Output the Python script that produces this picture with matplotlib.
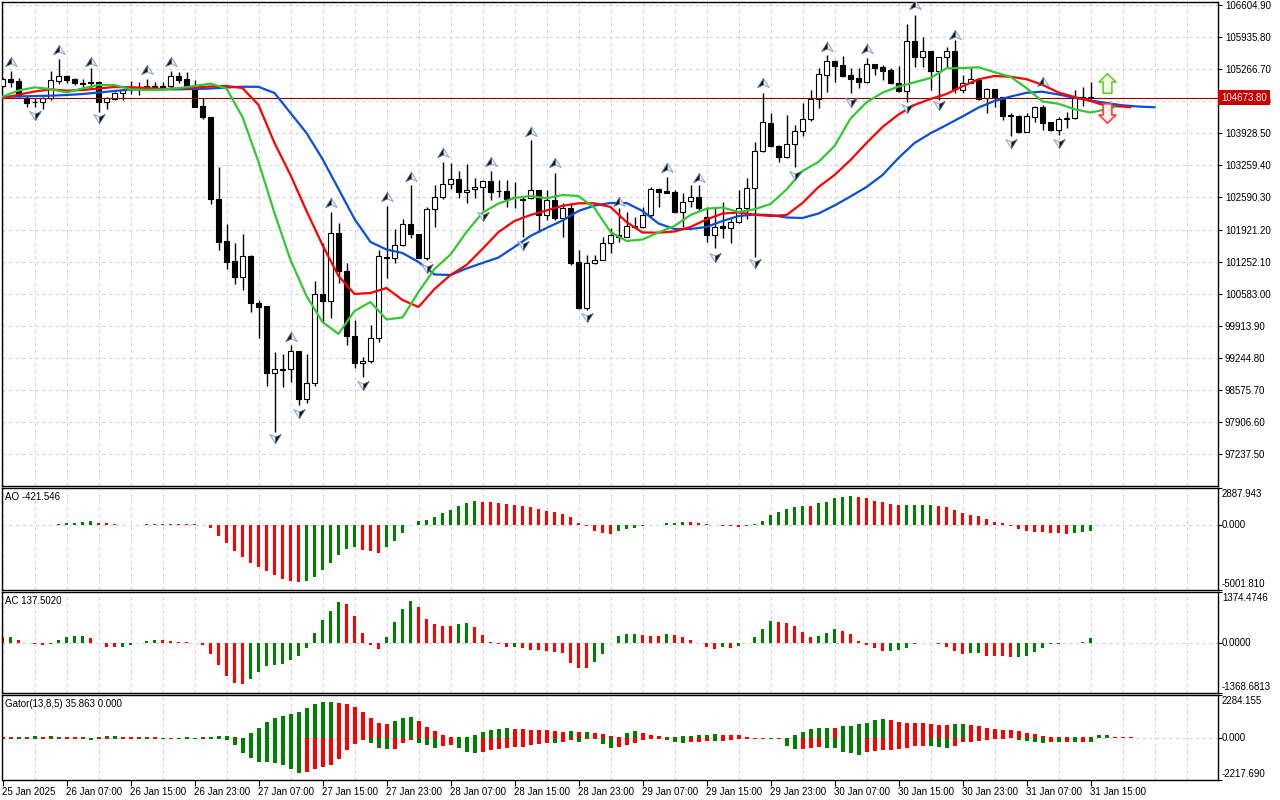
import numpy as np
import matplotlib
matplotlib.use("Agg")
import matplotlib.pyplot as plt
from matplotlib.path import Path
from matplotlib.transforms import blended_transform_factory, offset_copy

plt.rcParams['font.family'] = ['Liberation Sans', 'DejaVu Sans']
plt.rcParams['font.size'] = 7

# ---- H1 candles, 25 Jan 23:00 .. 31 Jan 15:00 ----
opens = [104921, 105061, 105019, 104675, 104575, 104575, 104658, 105026, 105134, 105061,
         104978, 105005, 105005, 104575, 104644, 104775, 104873, 104884, 104915, 104915,
         104915, 104915, 105130, 105061, 104900, 104498, 104262, 102552, 101682, 101271,
         100937, 101369, 100382, 100326, 98922, 99005, 99005, 99387, 98380, 98713,
         100570, 100436, 101855, 101062, 99706, 99130, 99178, 99665, 101354, 101321,
         101598, 102030, 101821, 101321, 102349, 102593, 102871, 102969, 102704, 102760,
         102802, 102933, 102725, 102725, 102600, 102547, 102572, 102746, 102224, 102537,
         102155, 102364, 101250, 100285, 101217, 101285, 101646, 101807, 101771, 102001,
         101980, 102224, 102760, 102725, 102698, 102293, 102516, 102593, 102189, 101807,
         101995, 101947, 102084, 102364, 102794, 103559, 104137, 103670, 103440, 103699,
         103976, 104220, 104638, 105144, 105436, 105353, 105144, 105076, 105005, 105368,
         105311, 105249, 104971, 104817, 105860, 105514, 105651, 105234, 105514, 105651,
         104832, 104984, 105040, 104658, 104846, 104692, 104316, 104289, 103962, 104275,
         104471, 104158, 103997, 104220, 104241, 104692, 104686]
highs = [105082, 105234, 105088, 104706, 104658, 104692, 105234, 105472, 105144, 105076,
         105061, 105284, 105019, 104692, 104796, 104852, 105019, 105005, 105055, 105005,
         105005, 105234, 105213, 105213, 105040, 104658, 104268, 103232, 102030, 101634,
         101821, 101380, 100451, 100330, 99372, 99318, 99512, 99390, 99318, 100854,
         101634, 102293, 102063, 101217, 100034, 99268, 99929, 101494, 102412, 101926,
         102134, 102850, 101830, 102385, 102850, 103336, 103303, 103148, 103282, 102990,
         102945, 103148, 102954, 102954, 102919, 102620, 103789, 102750, 102746, 103094,
         102468, 102468, 101494, 101390, 101390, 101771, 101947, 102364, 102293, 102189,
         102397, 102814, 102781, 103023, 102746, 102677, 102850, 102850, 102397, 102364,
         102502, 102155, 102746, 102990, 103753, 104763, 104346, 103675, 104310, 104101,
         104554, 104832, 105284, 105562, 105457, 105541, 105284, 105284, 105493, 105374,
         105353, 105284, 105332, 106208, 106396, 105943, 105655, 105525, 105735, 105875,
         105144, 105284, 105045, 104867, 104852, 104695, 104346, 104310, 104346, 104498,
         104519, 104162, 104275, 104379, 104832, 104888, 105005]
lows = [104894, 104888, 104692, 104467, 104477, 104435, 104623, 104957, 104971, 104936,
        104888, 104867, 104366, 104429, 104623, 104623, 104748, 104727, 104832, 104832,
        104852, 104867, 104971, 104888, 104477, 104220, 102447, 101494, 101091, 100778,
        100660, 100207, 99665, 98663, 97704, 98642, 98747, 98261, 98296, 98657,
        99965, 100069, 100799, 99512, 99026, 98851, 99143, 99569, 100916, 101217,
        101577, 101738, 101327, 101285, 101980, 102552, 102760, 102572, 102481, 102572,
        102328, 102537, 102606, 102397, 102364, 101771, 102552, 101876, 102120, 102120,
        101771, 101181, 100270, 100242, 101202, 101280, 101425, 101667, 101765, 101947,
        101947, 102189, 102397, 102677, 102260, 101980, 102397, 102328, 101667, 101530,
        101738, 101634, 102051, 102134, 101354, 103544, 103649, 103336, 103407, 103232,
        103872, 104191, 104450, 104796, 105005, 105109, 104763, 104867, 104971, 105144,
        105040, 104957, 104796, 104588, 105318, 105318, 104832, 104623, 105318, 104775,
        104775, 104971, 104623, 104346, 104483, 104206, 103872, 103928, 103955, 104170,
        103997, 103983, 103893, 104033, 104235, 104498, 104644]
closes = [105061, 105005, 104727, 104550, 104571, 104658, 105030, 105130, 105040, 104971,
          104967, 104971, 104588, 104671, 104763, 104842, 104884, 104894, 104867, 104867,
          104867, 105130, 105040, 104915, 104483, 104275, 102564, 101667, 101250, 100937,
          101369, 100382, 100311, 98922, 99005, 98995, 99387, 98380, 98713, 100570,
          100436, 101855, 101062, 99706, 99130, 99178, 99665, 101369, 101321, 101598,
          102030, 101821, 101333, 102349, 102593, 102864, 102969, 102698, 102746, 102802,
          102933, 102710, 102718, 102552, 102589, 102558, 102746, 102224, 102537, 102155,
          102364, 101217, 100285, 101217, 101285, 101646, 101807, 101759, 102001, 101968,
          102224, 102760, 102710, 102689, 102293, 102502, 102593, 102364, 101807, 101980,
          101947, 102084, 102364, 102794, 103559, 104158, 103670, 103440, 103699, 103976,
          104220, 104638, 105155, 105436, 105338, 105124, 105061, 105005, 105368, 105297,
          105234, 104971, 104817, 105860, 105514, 105651, 105234, 105514, 105651, 104846,
          104984, 105055, 104638, 104846, 104658, 104295, 104295, 103962, 104289, 104471,
          104149, 103997, 104220, 104254, 104658, 104658, 104673.8]
bid = 104673.80

# Alligator lines (read every second bar, shifted lines run past the last candle)
jaw_x = list(range(0, 145, 2))
jaw = [104692, 104696, 104706, 104713, 104727, 104748, 104779, 104811, 104842, 104846,
       104846, 104846, 104852, 104863, 104884, 104900, 104898, 104769, 104352, 103935,
       103392, 102767, 102141, 101661, 101504, 101431, 101244, 100983, 100972, 101108,
       101223, 101337, 101557, 101786, 101953, 102109, 102308, 102422, 102474, 102474,
       102308, 102047, 101932, 101932, 101974, 102099, 102203, 102234, 102224, 102172,
       102161, 102255, 102422, 102610, 102808, 103058, 103413, 103726, 103928, 104101,
       104279, 104466, 104602, 104694, 104773, 104796, 104738, 104669, 104613, 104560,
       104512, 104487, 104471]
teeth_x = list(range(0, 141, 2)) + [141]
teeth = [104658, 104734, 104800, 104846, 104817, 104832, 104863, 104894, 104890, 104873,
         104852, 104863, 104882, 104905, 104915, 104873, 104519, 103726, 103058, 102308,
         101598, 100952, 100576, 100597, 100701, 100451, 100305, 100680, 100972, 101181,
         101515, 101869, 102099, 102224, 102318, 102416, 102468, 102468, 102391, 102078,
         101859, 101855, 101880, 101974, 102130, 102255, 102276, 102230, 102203, 102224,
         102474, 102808, 103058, 103371, 103726, 104060, 104320, 104519, 104644, 104748,
         104909, 105055, 105124, 105109, 105057, 104940, 104779, 104686, 104602, 104498,
         104487, 104473]
lips_x = list(range(0, 139, 2)) + [139]
lips = [104692, 104821, 104886, 104852, 104781, 104863, 104936, 104936, 104846, 104832,
        104842, 104869, 104915, 104965, 104863, 104268, 103330, 102266, 101285, 100534,
        99992, 99742, 100222, 100409, 100044, 100086, 100618, 101098, 101400, 101869,
        102272, 102464, 102579, 102620, 102574, 102641, 102620, 102370, 101869, 101682,
        101713, 101859, 101995, 102224, 102355, 102380, 102287, 102343, 102454, 102756,
        103142, 103330, 103663, 104237, 104575, 104777, 104902, 104992, 105082, 105284,
        105288, 105307, 105203, 105107, 104873, 104592, 104544, 104431, 104362, 104429,
        104477]

# fractals
up_frac_idx = [1, 7, 11, 18, 21, 36, 41, 48, 51, 55, 61, 66, 69, 77, 83, 87, 95, 103, 108, 114, 119, 130]
up_frac_px = [105422, 105666, 105409, 105249, 105422, 99685, 102474, 102593, 103023, 103511, 103336,
              103962, 103303, 102502, 103198, 102990, 104971, 105735, 105681, 106605, 105979, 105005]
dn_frac_idx = [4, 12, 34, 37, 45, 53, 60, 65, 73, 89, 94, 99, 106, 113, 117, 126, 132]
dn_frac_px = [104310, 104248, 97572, 98094, 98678, 101119, 102203, 101598, 100103, 101354, 101217,
              103059, 104588, 104456, 104519, 103720, 103720]
signal_bar = 138
signal_up_px = 104977
signal_dn_px = 104352

# Awesome Oscillator
ao = [30, 20, 12, 5, 8, 15, 30, 77, 155, 206,
      284, 361, 206, 155, 103, 52, 26, 52, 77, 103,
      125, 135, 103, 100, 77, 20, -232, -800, -1393, -1961,
      -2477, -2941, -3199, -3509, -3818, -4128, -4283, -4360, -4334, -3973,
      -3431, -2941, -2270, -1806, -1703, -1883, -2012, -2116, -1703, -1187,
      -619, 0, 361, 439, 671, 955, 1213, 1522, 1729, 1909,
      1832, 1806, 1754, 1651, 1600, 1470, 1445, 1264, 1084, 1058,
      877, 619, 206, -77, -464, -593, -671, -464, -310, -232,
      -77, -10, 50, 155, 206, 258, 245, 180, 77, 10,
      -26, -77, -129, -77, 77, 361, 774, 1058, 1264, 1445,
      1470, 1460, 1703, 1832, 2090, 2219, 2245, 2167, 2090, 1909,
      1780, 1677, 1540, 1555, 1565, 1575, 1585, 1470, 1400, 1210,
      980, 825, 750, 516, 258, 180, -77, -310, -464, -516,
      -542, -568, -593, -645, -619, -516, -421.546]
# Accelerator Oscillator
ac = [141, 150, 68, -14, -50, -55, -41, 68, 159, 170,
      177, 123, -23, -114, -132, -125, -77, -14, 32, 68,
      64, 32, 23, 14, -23, -68, -304, -613, -903, -1085,
      -1130, -985, -795, -631, -613, -586, -459, -359, -159, 250,
      613, 867, 1094, 1040, 722, 250, -68, -168, 141, 549,
      903, 1130, 958, 631, 495, 459, 450, 515, 522, 422,
      204, 30, -40, -120, -110, -150, -190, -210, -222, -250,
      -280, -550, -690, -695, -520, -320, -23, 177, 231, 235,
      195, 177, 175, 231, 204, 159, 68, -14, -132, -168,
      -132, -159, -86, -14, 141, 368, 586, 549, 545, 450,
      277, 159, 177, 250, 359, 322, 231, 32, -68, -159,
      -222, -215, -204, -159, -41, -14, -23, -50, -114, -222,
      -322, -295, -277, -359, -362, -368, -404, -386, -359, -250,
      -141, -50, -41, -14, -5, 5, 137.502]
# Gator oscillator
gator_up = [54, 45, 40, 60, 89, 80, 95, 85, 70, 55,
            40, 30, 75, 90, 95, 85, 75, 60, 50, 40,
            30, 25, 30, 35, 30, 36, 40, 89, 95, 36,
            30, 250, 536, 840, 1054, 1161, 1269, 1376, 1590, 1805,
            1912, 1920, 1858, 1805, 1644, 1376, 1072, 786, 770, 893,
            1054, 1108, 893, 572, 357, 143, 36, 40, 45, 143,
            304, 411, 465, 518, 465, 460, 455, 411, 405, 400,
            304, 357, 304, 310, 250, 197, 89, 85, 250, 357,
            282, 177, 125, 86, 60, 100, 122, 157, 175, 193,
            175, 170, 160, 86, 32, 20, 30, 15, 25, 140,
            300, 480, 550, 555, 545, 620, 625, 765, 820, 945,
            1000, 945, 855, 820, 800, 795, 765, 711, 675, 765,
            770, 675, 620, 550, 497, 443, 407, 354, 282, 193,
            104, 50, 45, 70, 75, 60, 50, 140, 145, 68,
            50, 35.863]
gator_dn = [-20, -70, -72, -40, -50, -30, -25, -40, -30, -20,
            -60, -80, -25, -20, -30, -25, -20, -30, -35, -30,
            -50, -30, -45, -46, -47, -30, -54, -60, -89, -375,
            -768, -1072, -1251, -1287, -1305, -1447, -1626, -1840, -1787, -1626,
            -1519, -1447, -1126, -643, -322, -107, -232, -500, -600, -585,
            -268, -107, -268, -375, -536, -411, -375, -500, -715, -768,
            -715, -643, -590, -500, -495, -447, -375, -322, -232, -268,
            -179, -107, -179, -54, -60, -322, -536, -465, -375, -232,
            -120, -50, -40, -93, -183, -270, -220, -183, -165, -170,
            -160, -100, -60, -40, -30, -25, -40, -38, -395, -590,
            -585, -520, -480, -540, -545, -750, -800, -875, -750, -700,
            -630, -625, -590, -520, -430, -395, -400, -486, -540, -430,
            -215, -183, -130, -93, -40, -20, -15, -75, -165, -215,
            -270, -215, -230, -200, -215, -180, -190]

price_ticks = [106604.90, 105935.80, 105266.70, 104597.60, 103928.50, 103259.40, 102590.30,
               101921.20, 101252.10, 100583.00, 99913.90, 99244.80, 98575.70, 97906.60, 97237.50]
time_labels = ['25 Jan 2025', '26 Jan 07:00', '26 Jan 15:00', '26 Jan 23:00', '27 Jan 07:00',
               '27 Jan 15:00', '27 Jan 23:00', '28 Jan 07:00', '28 Jan 15:00', '28 Jan 23:00',
               '29 Jan 07:00', '29 Jan 15:00', '29 Jan 23:00', '30 Jan 07:00', '30 Jan 15:00',
               '30 Jan 23:00', '31 Jan 07:00', '31 Jan 15:00']

GREEN = '#008000'
RED = '#ff0000'
GRID = '#d6d6d6'
W, H = 1280, 800
XLIM = (-0.0625, 151.9375)

fig = plt.figure(figsize=(W / 100, H / 100), dpi=100)


def pane(x0, y0, x1, y1):
    ax = fig.add_axes([x0 / W, 1 - y1 / H, (x1 - x0) / W, (y1 - y0) / H])
    ax.set_xlim(*XLIM)
    for s in ax.spines.values():
        s.set_color('black')
        s.set_linewidth(1)
    ax.yaxis.tick_right()
    ax.tick_params(axis='y', length=3, pad=2, labelsize=7, colors='black')
    ax.set_xticks(np.arange(0, 152, 4), minor=True)
    ax.set_xticks([])
    ax.tick_params(axis='x', which='minor', length=0)
    ax.grid(which='minor', axis='x', color=GRID, linestyle=(0, (3, 3)), linewidth=0.8)
    ax.set_axisbelow(True)
    return ax


def rising_colors(vals):
    cols = [RED]
    for k in range(1, len(vals)):
        cols.append(GREEN if vals[k] > vals[k - 1] else RED)
    return cols


def side_labels(ax, top, bottom, fmt):
    tr = blended_transform_factory(ax.transAxes, ax.transData)
    ax.set_yticks([top, 0, bottom])
    ax.set_yticklabels([])
    ax.text(1.0, top, fmt % top, transform=offset_copy(tr, fig=fig, x=4, y=-1, units='dots'),
            ha='left', va='top', fontsize=7)
    ax.text(1.0, 0, fmt % 0, transform=offset_copy(tr, fig=fig, x=4, y=0, units='dots'),
            ha='left', va='center', fontsize=7)
    ax.text(1.0, bottom, fmt % bottom, transform=offset_copy(tr, fig=fig, x=4, y=1, units='dots'),
            ha='left', va='bottom', fontsize=7)
    ax.axhline(0, color=GRID, linestyle=(0, (3, 3)), linewidth=0.8, zorder=1)


def pane_title(ax, text):
    ax.annotate(text, xy=(0, 1), xycoords='axes fraction', xytext=(3, -4),
                textcoords='offset pixels', ha='left', va='top', fontsize=7)


# ---------- price pane ----------
ax = pane(2, 2, 1218, 486)
ax.set_ylim(96570.2, 106667.5)
ax.set_yticks(price_ticks)
ax.set_yticklabels(['%.2f' % v for v in price_ticks])
ax.grid(which='major', axis='y', color=GRID, linestyle=(0, (3, 3)), linewidth=0.8)

x = np.arange(len(opens))
o = np.array(opens, float)
c = np.array(closes, float)
bull = c >= o
ax.vlines(x, lows, highs, color='black', linewidth=1, zorder=2)
ax.bar(x, np.abs(c - o), bottom=np.minimum(o, c), width=0.6,
       color=np.where(bull, 'white', 'black'), edgecolor='black', linewidth=0.8, zorder=3)

ax.axhline(bid, color='#8e0000', linewidth=0.8, zorder=3)
ax.plot(jaw_x, jaw, color='#0a4fd6', linewidth=1.6, zorder=4, solid_joinstyle='round')
ax.plot(teeth_x, teeth, color='#ff0000', linewidth=1.6, zorder=4, solid_joinstyle='round')
ax.plot(lips_x, lips, color='#33c833', linewidth=1.6, zorder=4, solid_joinstyle='round')

# fractal glyphs: two-tone arrow heads, wider than tall
up_left = Path([(0, 0.75), (0, -0.2), (-0.85, -0.6), (0, 0.75)],
               [Path.MOVETO, Path.LINETO, Path.LINETO, Path.CLOSEPOLY])
up_right = Path([(0, 0.75), (0.85, -0.6), (0, -0.2), (0, 0.75)],
                [Path.MOVETO, Path.LINETO, Path.LINETO, Path.CLOSEPOLY])
dn_left = Path([(0, -0.75), (0, 0.2), (-0.85, 0.6), (0, -0.75)],
               [Path.MOVETO, Path.LINETO, Path.LINETO, Path.CLOSEPOLY])
dn_right = Path([(0, -0.75), (0.85, 0.6), (0, 0.2), (0, -0.75)],
                [Path.MOVETO, Path.LINETO, Path.LINETO, Path.CLOSEPOLY])
dark = dict(markerfacecolor='#101010', markeredgecolor='#5a6a80', markeredgewidth=0.6)
light = dict(markerfacecolor='#e6ecf2', markeredgecolor='#8ea4c4', markeredgewidth=0.7)
ax.plot(up_frac_idx, up_frac_px, linestyle='none', marker=up_right, markersize=8.3, zorder=5, **light)
ax.plot(up_frac_idx, up_frac_px, linestyle='none', marker=up_left, markersize=8.3, zorder=5, **dark)
ax.plot(dn_frac_idx, dn_frac_px, linestyle='none', marker=dn_left, markersize=8.3, zorder=5, **light)
ax.plot(dn_frac_idx, dn_frac_px, linestyle='none', marker=dn_right, markersize=8.3, zorder=5, **dark)

# hollow signal arrows after the last bar
block_up = Path([(0, 1), (0.87, 0.15), (0.45, 0.15), (0.45, -1), (-0.45, -1),
                 (-0.45, 0.15), (-0.87, 0.15), (0, 1)],
                [Path.MOVETO] + [Path.LINETO] * 6 + [Path.CLOSEPOLY])
block_dn = Path([(0, -1), (0.87, -0.15), (0.45, -0.15), (0.45, 1), (-0.45, 1),
                 (-0.45, -0.15), (-0.87, -0.15), (0, -1)],
                [Path.MOVETO] + [Path.LINETO] * 6 + [Path.CLOSEPOLY])
ax.plot([signal_bar], [signal_up_px], marker=block_up, markersize=14, linestyle='none',
        markerfacecolor='#f2ffe6', markeredgecolor='#66d02a', markeredgewidth=1.2, zorder=6)
ax.plot([signal_bar], [signal_dn_px], marker=block_dn, markersize=14, linestyle='none',
        markerfacecolor='#fff0f0', markeredgecolor='#ff3b3b', markeredgewidth=1.2, zorder=6)

tr = blended_transform_factory(ax.transAxes, ax.transData)
ax.text(1.0, bid, '%.2f' % bid, transform=offset_copy(tr, fig=fig, x=3, y=0, units='dots'),
        ha='left', va='center', color='white', fontsize=7, zorder=10, clip_on=False,
        bbox=dict(boxstyle='square,pad=0.3', facecolor='#c80000', edgecolor='none'))

# ---------- AO ----------
ax_ao = pane(2, 488, 1218, 590)
ax_ao.set_ylim(-5001.810, 2887.943)
side_labels(ax_ao, 2887.943, -5001.810, '%.3f')
ax_ao.bar(np.arange(len(ao)), ao, width=0.45, color=rising_colors(ao), linewidth=0, zorder=2)
pane_title(ax_ao, 'AO -421.546')

# ---------- AC ----------
ax_ac = pane(2, 592, 1218, 693)
ax_ac.set_ylim(-1368.6813, 1374.4746)
side_labels(ax_ac, 1374.4746, -1368.6813, '%.4f')
ax_ac.bar(np.arange(len(ac)), ac, width=0.45, color=rising_colors(ac), linewidth=0, zorder=2)
pane_title(ax_ac, 'AC 137.5020')

# ---------- Gator ----------
ax_g = pane(2, 695, 1218, 780)
ax_g.set_ylim(-2217.690, 2284.155)
side_labels(ax_g, 2284.155, -2217.690, '%.3f')
up_cols = rising_colors(gator_up)
dn_cols = [RED] + [GREEN if gator_dn[k] < gator_dn[k - 1] else RED for k in range(1, len(gator_dn))]
ax_g.bar(np.arange(len(gator_up)), gator_up, width=0.5, color=up_cols, linewidth=0, zorder=2)
ax_g.bar(np.arange(len(gator_dn)), gator_dn, width=0.5, color=dn_cols, linewidth=0, zorder=2)
pane_title(ax_g, 'Gator(13,8,5) 35.863 0.000')

ax_g.set_xticks(np.arange(0, 8 * len(time_labels), 8))
ax_g.set_xticklabels(time_labels, ha='left')
ax_g.tick_params(axis='x', which='major', length=4, pad=1, labelsize=7)

fig.savefig('out.png', dpi=100)
